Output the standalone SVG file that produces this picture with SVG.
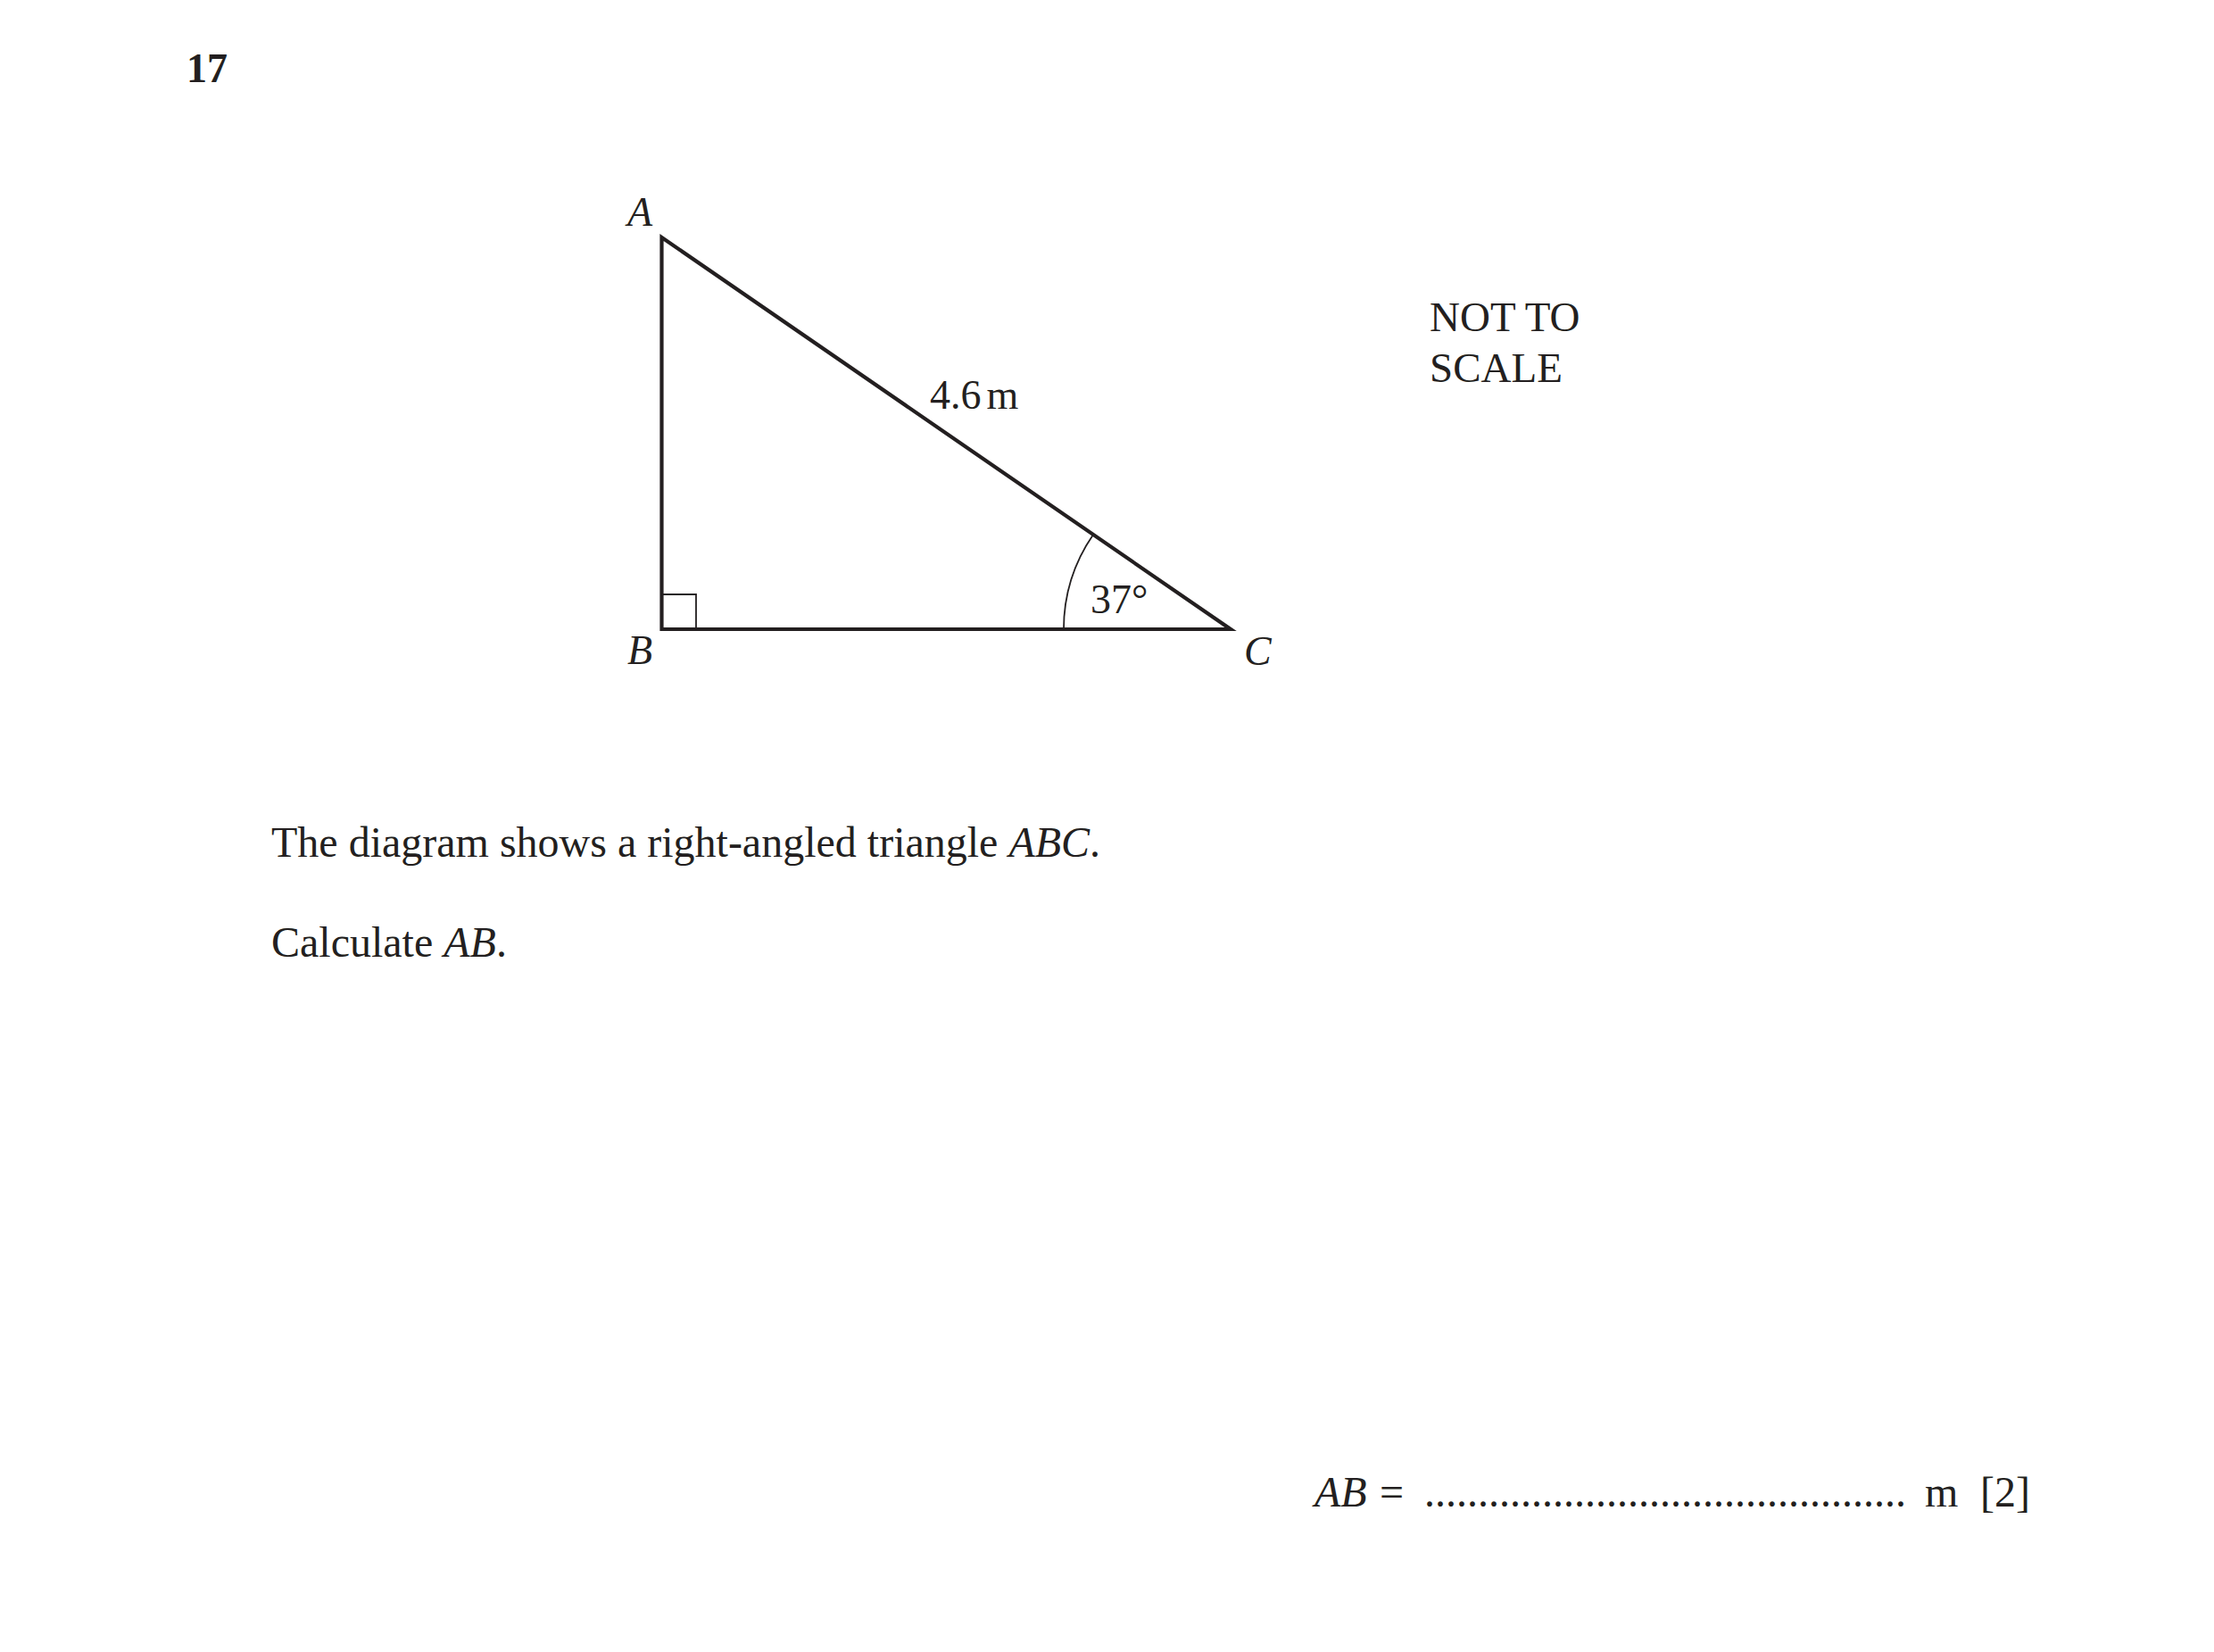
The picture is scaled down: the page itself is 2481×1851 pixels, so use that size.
<svg xmlns="http://www.w3.org/2000/svg" width="2481" height="1851" viewBox="0 0 2481 1851">
<style>
text{font-family:"Liberation Serif","Times New Roman",serif;fill:#231f20}
.lbl{font-size:46px;font-style:italic}
.dim{font-size:46px}
.ns{font-size:47px}
.body{font-size:48px}
.it{font-style:italic}
.edge{fill:none;stroke:#231f20;stroke-width:4.2;stroke-linejoin:miter;stroke-miterlimit:10}
.thin{fill:none;stroke:#231f20;stroke-width:1.8}
</style>
<rect width="2481" height="1851" fill="#ffffff"/>
<text x="209" y="92" style="font-size:46px;font-weight:bold">17</text>
<g id="connectors">
<polygon class="edge" points="741.5,266 741.5,705 1379,705"/>
<polyline class="thin" points="741.5,666 780,666 780,705"/>
<path class="thin" d="M1192 705 A187 187 0 0 1 1224.9 599.2"/>
</g>
<g id="node-A"><text class="lbl" x="703" y="253">A</text></g>
<g id="node-B"><text class="lbl" x="703" y="744">B</text></g>
<g id="node-C"><text class="lbl" x="1394" y="745">C</text></g>
<text class="dim" x="1042" y="458">4.6<tspan dx="6">m</tspan></text>
<text class="dim" x="1222" y="687">37°</text>
<text class="ns" x="1602" y="371">NOT TO</text>
<text class="ns" x="1602" y="428">SCALE</text>
<text class="body" x="304" y="960">The diagram shows a right-angled triangle <tspan class="it">ABC</tspan>.</text>
<text class="body" x="304" y="1072">Calculate <tspan class="it">AB</tspan>.</text>
<text class="body it" x="1473" y="1688">AB</text>
<text class="body" x="1546" y="1688">=</text>
<text class="body" x="1596" y="1688">.............................................</text>
<text class="body" x="2157" y="1688">m</text>
<text class="body" x="2219" y="1688">[2]</text>
</svg>
